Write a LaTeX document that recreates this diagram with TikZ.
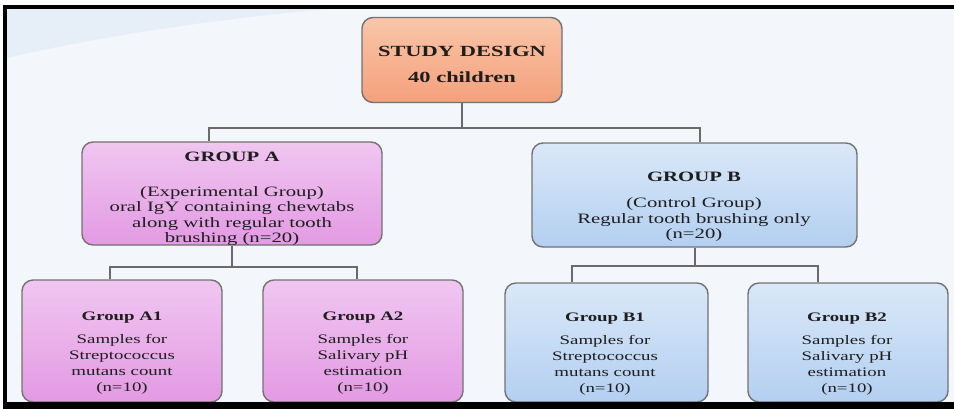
\documentclass[tikz,border=0pt]{standalone}
\usepackage{fontspec}
\setmainfont{Liberation Serif}
\newfontfamily\wideserif[FakeStretch=1.45]{Liberation Serif}
\usetikzlibrary{positioning}

\definecolor{bgcol}{HTML}{F3F6FA}
\definecolor{swooshcol}{HTML}{E6EEF8}
\definecolor{boxline}{HTML}{727272}
\definecolor{linkcol}{HTML}{6A6A6A}
\definecolor{txtcol}{HTML}{1E1E1E}
\definecolor{studytop}{HTML}{F9C6A9}
\definecolor{studybot}{HTML}{F4A07C}
\definecolor{pinktop}{HTML}{F0C6F0}
\definecolor{pinkbot}{HTML}{E39AE3}
\definecolor{bluetop}{HTML}{DAE8F8}
\definecolor{bluebot}{HTML}{B3CFF1}

\begin{document}
\begin{tikzpicture}[x=1pt,y=-1pt,
    box/.style={draw=boxline, line width=1.4pt, rounded corners=11pt},
    studybox/.style={box, top color=studytop, bottom color=studybot},
    pinkbox/.style={box, top color=pinktop, bottom color=pinkbot},
    bluebox/.style={box, top color=bluetop, bottom color=bluebot},
    txt/.style={align=center, text=txtcol, inner sep=0pt, font=\wideserif\fontsize{14.3}{15.5}\selectfont},
    smalltxt/.style={txt, font=\wideserif\fontsize{13}{16}\selectfont},
    link/.style={draw=linkcol, line width=2pt}]
  \useasboundingbox (0,0) rectangle (954,409);
  \fill[white] (0,0) rectangle (954,409);
  \fill[bgcol] (3,5) rectangle (954,402);
  % light swoosh top left
  \fill[swooshcol] (7,9) -- (330,9) .. controls (220,18) and (90,38) .. (7,58) -- cycle;

  % boxes
  \node[studybox, minimum width=200pt, minimum height=85pt] (study) at (462,60) {};
  \node[pinkbox, minimum width=300pt, minimum height=103pt] (grpA) at (232,193.5) {};
  \node[bluebox, minimum width=325pt, minimum height=104pt] (grpB) at (694.5,195) {};
  \node[pinkbox, minimum width=200pt, minimum height=122pt] (a1) at (122,341) {};
  \node[pinkbox, minimum width=200pt, minimum height=122pt] (a2) at (363,341) {};
  \node[bluebox, minimum width=203pt, minimum height=119pt] (b1) at (606.5,342.5) {};
  \node[bluebox, minimum width=200pt, minimum height=119pt] (b2) at (848,342.5) {};

  % texts
  \node[txt, font=\wideserif\bfseries\fontsize{15.5}{18}\selectfont] (studyTxt) at (462,64)
    {STUDY DESIGN\\[8pt]40 children};
  \node[txt] (grpAtxt) at (232,199)
    {\textbf{GROUP A}\\[19pt](Experimental Group)\\oral IgY containing chewtabs\\along with regular tooth\\brushing (n=20)};
  \node[txt] (grpBtxt) at (694,207)
    {\textbf{GROUP B}\\[11pt](Control Group)\\Regular tooth brushing only\\(n=20)};
  \node[smalltxt] (a1txt) at (122,353)
    {\textbf{Group A1}\\[7pt]Samples for\\Streptococcus\\mutans count\\(n=10)};
  \node[smalltxt] (a2txt) at (363,353)
    {\textbf{Group A2}\\[7pt]Samples for\\Salivary pH\\estimation\\(n=10)};
  \node[smalltxt] (b1txt) at (605,354)
    {\textbf{Group B1}\\[7pt]Samples for\\Streptococcus\\mutans count\\(n=10)};
  \node[smalltxt] (b2txt) at (847,354)
    {\textbf{Group B2}\\[7pt]Samples for\\Salivary pH\\estimation\\(n=10)};

  % connectors
  \coordinate (barL) at (209,128);
  \coordinate (barR) at (700,128);
  \draw[link] (study.south) -- (study.south |- barL);
  \draw[link] (grpA.north -| barL) |- (barR) -- (grpB.north -| barR);

  \coordinate (barAL) at (110,267);
  \coordinate (barAR) at (357,267);
  \draw[link] (grpA.south) -- (grpA.south |- barAL);
  \draw[link] (a1.north -| barAL) |- (barAR) -- (a2.north -| barAR);

  \coordinate (barBL) at (572,266);
  \coordinate (barBR) at (818,266);
  \draw[link] (grpB.south) -- (grpB.south |- barBL);
  \draw[link] (b1.north -| barBL) |- (barBR) -- (b2.north -| barBR);

  % frame
  \fill[black] (3,5) rectangle (954,9);
  \fill[black] (3,5) rectangle (7,402);
  \fill[black] (3,402) rectangle (954,409);
\end{tikzpicture}
\end{document}
